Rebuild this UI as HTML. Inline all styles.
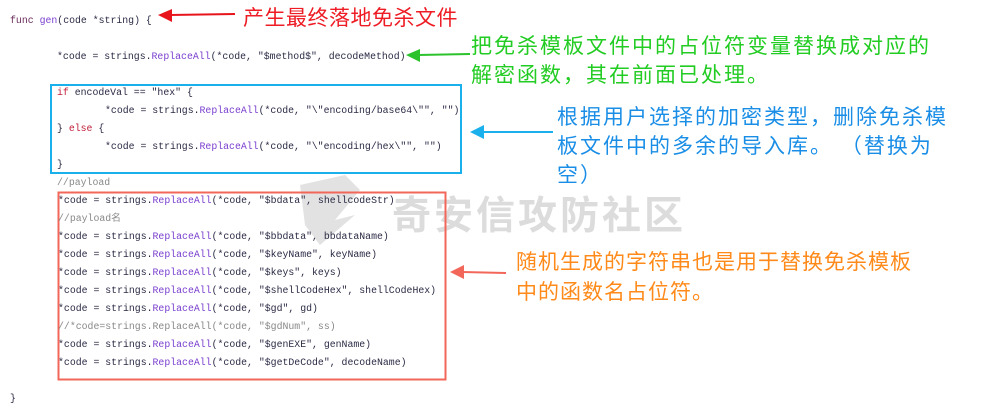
<!DOCTYPE html>
<html><head><meta charset="utf-8"><style>
body{margin:0;background:#fff;width:993px;height:415px;position:relative;overflow:hidden}
.c{position:absolute;font-family:"Liberation Mono",monospace;font-size:9.85px;color:#2a2a45;white-space:pre;line-height:12px}
.k{color:#c0203a}.f{color:#7a3fcf}.m{color:#888}.fn{color:#6a2a5a}
.a{position:absolute;font-family:"Liberation Sans","Noto Sans CJK SC",sans-serif;font-size:21px;white-space:nowrap;line-height:28px}
</style></head><body>
<div style="position:absolute;left:392px;top:188px;font:bold 39px 'Noto Sans CJK SC',sans-serif;color:#dcdcdc;letter-spacing:3px;line-height:50px">奇安信攻防社区</div>
<svg style="position:absolute;left:0;top:0" width="993" height="415">
<path d="M300 185 L345 175 L360 190 L335 220 L355 215 L320 245 L305 225 Z" fill="#e2e2e2"/>
<rect x="51" y="85" width="410" height="88" fill="none" stroke="#1ab0ec" stroke-width="2"/>
<rect x="58.5" y="192.5" width="387" height="187" fill="none" stroke="#f2675a" stroke-width="2"/>
<line x1="235" y1="14" x2="170" y2="15" stroke="#e8141c" stroke-width="2"/>
<polygon points="158,15 172,9 172,22" fill="#e8141c"/>
<line x1="470" y1="54" x2="418" y2="55" stroke="#2cc22c" stroke-width="2"/>
<polygon points="406,55 420,49 420,62" fill="#2cc22c"/>
<line x1="553" y1="132" x2="482" y2="132" stroke="#1ab0ec" stroke-width="2"/>
<polygon points="470,132 484,125 484,139" fill="#1ab0ec"/>
<line x1="506" y1="273" x2="462" y2="272" stroke="#f2675a" stroke-width="2"/>
<polygon points="450,272 464,265 464,279" fill="#f2675a"/>
</svg>
<div class="c" style="left:10px;top:15px"><span class="fn">func</span> <span class="f">gen</span>(code *string) {</div>
<div class="c" style="left:57px;top:51px">*code = strings.<span class="f">ReplaceAll</span>(*code, "$method$", decodeMethod)</div>
<div class="c" style="left:57px;top:87px"><span class="k">if</span> encodeVal == "hex" {</div>
<div class="c" style="left:105px;top:105px">*code = strings.<span class="f">ReplaceAll</span>(*code, "\"encoding/base64\"", "")</div>
<div class="c" style="left:57px;top:123px">} <span class="k">else</span> {</div>
<div class="c" style="left:105px;top:141px">*code = strings.<span class="f">ReplaceAll</span>(*code, "\"encoding/hex\"", "")</div>
<div class="c" style="left:57px;top:159px">}</div>
<div class="c m" style="left:57px;top:177px">//payload</div>
<div class="c" style="left:58px;top:195px">*code = strings.<span class="f">ReplaceAll</span>(*code, "$bdata", shellcodeStr)</div>
<div class="c m" style="left:58px;top:213px">//payload名</div>
<div class="c" style="left:58px;top:231px">*code = strings.<span class="f">ReplaceAll</span>(*code, "$bbdata", bbdataName)</div>
<div class="c" style="left:58px;top:249px">*code = strings.<span class="f">ReplaceAll</span>(*code, "$keyName", keyName)</div>
<div class="c" style="left:58px;top:267px">*code = strings.<span class="f">ReplaceAll</span>(*code, "$keys", keys)</div>
<div class="c" style="left:58px;top:285px">*code = strings.<span class="f">ReplaceAll</span>(*code, "$shellCodeHex", shellCodeHex)</div>
<div class="c" style="left:58px;top:303px">*code = strings.<span class="f">ReplaceAll</span>(*code, "$gd", gd)</div>
<div class="c m" style="left:58px;top:321px">//*code=strings.ReplaceAll(*code, "$gdNum", ss)</div>
<div class="c" style="left:58px;top:339px">*code = strings.<span class="f">ReplaceAll</span>(*code, "$genEXE", genName)</div>
<div class="c" style="left:58px;top:357px">*code = strings.<span class="f">ReplaceAll</span>(*code, "$getDeCode", decodeName)</div>
<div class="c" style="left:10px;top:393px">}</div>
<div class="a" style="left:243px;top:5px;color:#ee1c24;letter-spacing:0.5px">产生最终落地免杀文件</div>
<div class="a" style="left:471px;top:32px;color:#22cc22;letter-spacing:2px;line-height:29px">把免杀模板文件中的占位符变量替换成对应的<br>解密函数，其在前面已处理。</div>
<div class="a" style="left:557px;top:103px;color:#1a8ee6;letter-spacing:2px;line-height:29px">根据用户选择的加密类型，删除免杀模<br>板文件中的多余的导入库。 （替换为<br>空）</div>
<div class="a" style="left:516px;top:248px;color:#ff8a1a;letter-spacing:1px;line-height:30px">随机生成的字符串也是用于替换免杀模板<br>中的函数名占位符。</div>
</body></html>
